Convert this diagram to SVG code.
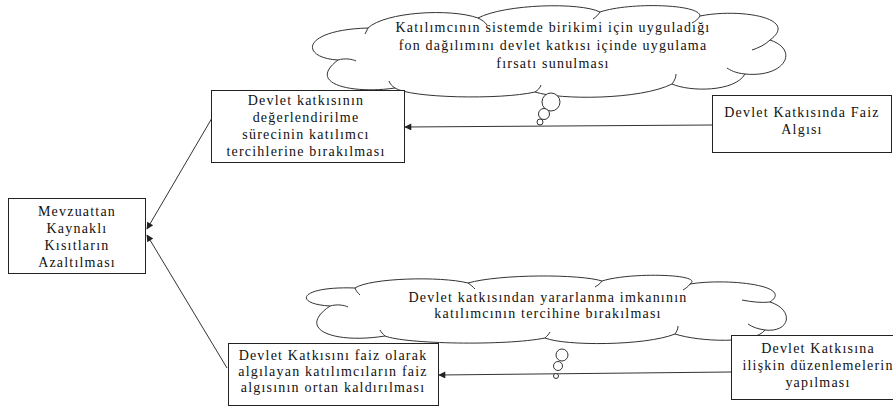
<svg xmlns="http://www.w3.org/2000/svg" width="893" height="406" viewBox="0 0 893 406">
<defs>
<marker id="ah" viewBox="0 0 10 10" refX="9" refY="5" markerWidth="9" markerHeight="7" markerUnits="userSpaceOnUse" orient="auto">
<path d="M0,0 L10,5 L0,10 z" fill="#222"/>
</marker>
<style>
.box{fill:#fff;stroke:#222;stroke-width:1}
.cloud{fill:#fff;stroke:#333;stroke-width:1}
.inner{fill:none;stroke:#333;stroke-width:1}
.t{font-family:"Liberation Serif","Times New Roman",serif;font-size:14px;letter-spacing:1.2px;fill:#111;text-anchor:middle}
.conn{stroke:#333;stroke-width:1;fill:none;marker-end:url(#ah)}
</style>
</defs>
<rect width="893" height="406" fill="#fff"/>

<g id="connectors">
<line class="conn" x1="712" y1="125" x2="405" y2="127"/>
<line class="conn" x1="731" y1="372" x2="439" y2="375"/>
<line class="conn" x1="212" y1="118" x2="147" y2="229"/>
<line class="conn" x1="227" y1="368" x2="147" y2="235"/>
</g>

<g id="cloud1">
<path class="cloud" d="M338,60 C300,58 300,30 368,28 C385,12 450,8 478,18 C505,4 580,2 600,12 C630,2 700,4 700,16 C740,8 800,18 770,40 C800,50 785,78 745,74 C735,92 690,92 672,84 C640,100 560,100 535,92 C500,100 410,98 395,88 C355,94 305,85 338,60 Z"/>
<path class="inner" d="M338,60 C345,58 352,59 356,61 M368,28 C367,30 366,32 365,34 M478,18 C482,20 485,22 487,25 M600,12 C598,15 596,17 593,19 M700,16 C698,19 696,21 692,23 M770,40 C765,45 758,48 752,50 M745,74 C735,73 730,70 727,68 M672,84 C675,80 676,77 676,74 M535,92 C538,90 540,88 541,85 M395,88 C392,86 390,84 389,81"/>
<circle class="cloud" cx="551" cy="102" r="9"/>
<circle class="cloud" cx="544" cy="114" r="5.5"/>
<circle class="cloud" cx="540" cy="122" r="3"/>
<text class="t" x="553" y="32">Katılımcının sistemde birikimi için uyguladığı</text>
<text class="t" x="553" y="50">fon dağılımını devlet katkısı içinde uygulama</text>
<text class="t" x="553" y="68">fırsatı sunulması</text>
</g>

<g id="cloud2">
<path class="cloud" d="M330,306 C293,304 298,286 355,288 C370,278 440,276 468,283 C500,274 580,274 602,281 C630,272 705,274 690,284 C725,278 795,285 770,302 C795,310 790,333 765,330 C755,344 700,342 675,334 C645,346 565,346 545,338 C505,346 405,344 385,336 C335,344 295,330 330,306 Z"/>
<path class="inner" d="M330,306 C337,304 344,305 348,307 M355,288 C356,291 358,293 360,295 M468,283 C471,285 473,287 475,289 M602,281 C600,284 598,285 595,287 M690,284 C688,287 686,288 683,290 M770,302 C762,303 752,302 742,300 M765,330 C758,329 752,327 748,324 M675,334 C677,331 678,329 678,326 M545,338 C547,336 549,334 550,332 M385,336 C383,334 381,332 380,330"/>
<circle class="cloud" cx="562" cy="355" r="6"/>
<circle class="cloud" cx="558" cy="366" r="4.5"/>
<circle class="cloud" cx="556" cy="376" r="2.5"/>
<text class="t" x="548" y="302">Devlet katkısından yararlanma imkanının</text>
<text class="t" x="548" y="318">katılımcının tercihine bırakılması</text>
</g>

<g id="box-mevzuat">
<rect class="box" x="8.5" y="198.5" width="137" height="75"/>
<text class="t" x="77" y="216">Mevzuattan</text>
<text class="t" x="77" y="233">Kaynaklı</text>
<text class="t" x="77" y="250">Kısıtların</text>
<text class="t" x="77" y="267">Azaltılması</text>
</g>

<g id="box-degerlendirme">
<rect class="box" x="211.5" y="90.5" width="193" height="72"/>
<text class="t" x="306" y="105">Devlet katkısının</text>
<text class="t" x="306" y="122">değerlendirilme</text>
<text class="t" x="306" y="139">sürecinin katılımcı</text>
<text class="t" x="306" y="156">tercihlerine bırakılması</text>
</g>

<g id="box-faiz-algisi">
<rect class="box" x="712.5" y="95.5" width="179" height="57"/>
<text class="t" x="802" y="117">Devlet Katkısında Faiz</text>
<text class="t" x="802" y="134">Algısı</text>
</g>

<g id="box-faiz-kaldirma">
<rect class="box" x="228.5" y="343.5" width="210" height="62"/>
<text class="t" x="333" y="360">Devlet Katkısını faiz olarak</text>
<text class="t" x="333" y="376">algılayan katılımcıların faiz</text>
<text class="t" x="333" y="392">algısının ortan kaldırılması</text>
</g>

<g id="box-duzenleme">
<rect class="box" x="731.5" y="335.5" width="175" height="64"/>
<text class="t" x="818" y="353">Devlet Katkısına</text>
<text class="t" x="818" y="370">ilişkin düzenlemelerin</text>
<text class="t" x="818" y="387">yapılması</text>
</g>
</svg>
